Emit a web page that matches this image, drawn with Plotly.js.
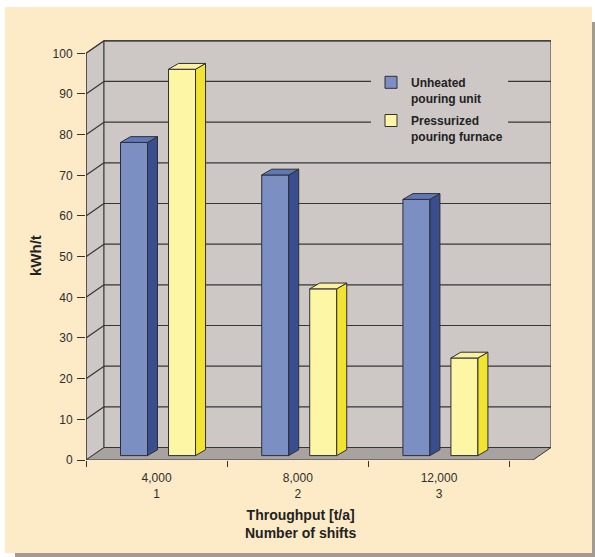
<!DOCTYPE html>
<html>
<head>
<meta charset="utf-8">
<script src="https://cdn.plot.ly/plotly-3.0.1.min.js"></script>
<style>
html,body{margin:0;padding:0;background:#fff;}
#chart{width:595px;height:557px;}
</style>
</head>
<body>
<div id="chart"></div>
<script>
// ---------- data ----------
var throughput = ['4,000', '8,000', '12,000'];
var shifts = ['1', '2', '3'];
var seriesNames = ['Unheated<br>pouring unit', 'Pressurized<br>pouring furnace'];
var unheated = [77, 69, 63];
var pressurized = [95, 41, 24];
var yTicks = [0, 10, 20, 30, 40, 50, 60, 70, 80, 90, 100];

// ---------- geometry / style ----------
var W = 595, H = 557;
var M = {l: 86, r: 44, t: 40, b: 97};
var plotW = W - M.l - M.r, plotH = H - M.t - M.b;
var Sx = 141.2;            // px per category unit
var Sy = 4.067;            // px per kWh/t
var xMin = -0.5, xMax = xMin + plotW / Sx;
var yMax = plotH / Sy;
var DX = 18 / Sx, DY = 12.5 / Sy;      // wall depth
var xFloor = xMin + 447 / Sx;           // floor front-right corner
var BASE = 4.4 / Sy;                    // bar baseline (front face)
var BDX = 10 / Sx, BDY = 5.8 / Sy;      // bar depth
var BW = 27 / Sx;                       // bar width
var offsets = [-0.16, 0.18];
var frontCol = ['#7b8fc3', '#fdf6a4'];
var sideCol = ['#3a4d8c', '#f2e330'];
var topCol = ['#6178b6', '#fbf1a2'];
var edge = '#2e2e36';
var wallCol = '#cdc8c6', floorCol = '#a8a3a1', gridCol = '#363636';
var cream = '#fdeac6';
var FONT = 'Liberation Sans, Arial, sans-serif';

var values = [unheated, pressurized];
var traces = [];
var cats = throughput.map(function (t, i) { return i; });
var catLabels = throughput.map(function (t, i) { return t + '<br>' + shifts[i]; });

// front faces as bar traces
values.forEach(function (vals, s) {
  traces.push({
    type: 'bar',
    name: seriesNames[s],
    legendgroup: 'g' + s,
    x: cats.map(function (c) { return c + offsets[s]; }),
    y: vals,
    base: BASE,
    width: BW,
    marker: {color: frontCol[s], line: {color: edge, width: 1}},
    hoverinfo: 'skip'
  });
});
// side and top faces
values.forEach(function (vals, s) {
  vals.forEach(function (v, i) {
    var xc = cats[i] + offsets[s];
    var xl = xc - BW / 2, xr = xc + BW / 2, b = BASE, t = BASE + v;
    traces.push({
      type: 'scatter', mode: 'lines', fill: 'toself', showlegend: false, hoverinfo: 'skip',
      legendgroup: 'g' + s,
      x: [xr, xr + BDX, xr + BDX, xr, xr],
      y: [b, b + BDY, t + BDY, t, b],
      fillcolor: sideCol[s], line: {color: edge, width: 1}
    });
    traces.push({
      type: 'scatter', mode: 'lines', fill: 'toself', showlegend: false, hoverinfo: 'skip',
      legendgroup: 'g' + s,
      x: [xl, xr, xr + BDX, xl + BDX, xl],
      y: [t, t, t + BDY, t + BDY, t],
      fillcolor: topCol[s], line: {color: edge, width: 1}
    });
  });
});

// ---------- shapes ----------
function px2paperX(px) { return (px - M.l) / plotW; }
function px2paperY(py) { return (H - M.b - py) / plotH; }
var shapes = [];
// shadow + cream panel
shapes.push({type: 'rect', xref: 'paper', yref: 'paper', layer: 'below',
  x0: px2paperX(15), x1: px2paperX(595), y0: px2paperY(557), y1: px2paperY(22),
  fillcolor: '#a39a92', line: {width: 0}});
shapes.push({type: 'rect', xref: 'paper', yref: 'paper', layer: 'below',
  x0: px2paperX(5), x1: px2paperX(592), y0: px2paperY(553), y1: px2paperY(7),
  fillcolor: cream, line: {width: 0}});
var yTop = yTicks[yTicks.length - 1];
// left wall
shapes.push({type: 'path', xref: 'x', yref: 'y', layer: 'below',
  path: 'M' + xMin + ',0 L' + (xMin + DX) + ',' + DY + ' L' + (xMin + DX) + ',' + (yTop + DY) +
        ' L' + xMin + ',' + yTop + ' Z',
  fillcolor: wallCol, line: {color: gridCol, width: 1}});
// back wall
shapes.push({type: 'rect', xref: 'x', yref: 'y', layer: 'below',
  x0: xMin + DX, x1: xFloor + DX, y0: DY, y1: yTop + DY,
  fillcolor: wallCol, line: {color: gridCol, width: 1}});
// floor
shapes.push({type: 'path', xref: 'x', yref: 'y', layer: 'below',
  path: 'M' + xMin + ',0 L' + xFloor + ',0 L' + (xFloor + DX) + ',' + DY +
        ' L' + (xMin + DX) + ',' + DY + ' Z',
  fillcolor: floorCol, line: {color: gridCol, width: 1}});
// gridlines
yTicks.forEach(function (v) {
  if (v === 0) return;
  shapes.push({type: 'line', xref: 'x', yref: 'y', layer: 'below',
    x0: xMin + DX, x1: xFloor + DX, y0: v + DY, y1: v + DY,
    line: {color: gridCol, width: 1.2}});
  shapes.push({type: 'line', xref: 'x', yref: 'y', layer: 'below',
    x0: xMin, x1: xMin + DX, y0: v, y1: v + DY,
    line: {color: gridCol, width: 1.2}});
});
// front value axis line
shapes.push({type: 'line', xref: 'x', yref: 'y', layer: 'below',
  x0: xMin, x1: xMin, y0: 0, y1: yTop, line: {color: gridCol, width: 1.2}});

var layout = {
  width: W, height: H,
  margin: M,
  paper_bgcolor: '#ffffff',
  plot_bgcolor: 'rgba(0,0,0,0)',
  barmode: 'overlay',
  showlegend: true,
  font: {family: FONT, color: '#2e2e2e'},
  xaxis: {
    type: 'linear', range: [xMin, xMax], fixedrange: true,
    tickmode: 'array', tickvals: cats, ticktext: catLabels,
    ticks: 'outside', ticklen: 3, tickcolor: 'rgba(0,0,0,0)',
    minor: {tickmode: 'array', tickvals: [-0.5, 0.5, 1.5, 2.5], ticks: 'outside',
            ticklen: 6, tickwidth: 1, tickcolor: '#333333'},
    tickfont: {family: FONT, size: 12, color: '#2e2e2e'},
    ticklabelstandoff: 4,
    showgrid: false, zeroline: false, showline: false
  },
  yaxis: {
    range: [0, yMax], fixedrange: true,
    tickmode: 'array', tickvals: yTicks,
    ticks: 'outside', ticklen: 8, tickwidth: 1, tickcolor: '#333333',
    tickfont: {family: FONT, size: 12, color: '#2e2e2e'},
    ticklabelstandoff: 2,
    showgrid: false, zeroline: false, showline: false
  },
  legend: {
    x: px2paperX(371), xanchor: 'left',
    y: px2paperY(68), yanchor: 'top',
    bgcolor: wallCol, borderwidth: 0,
    valign: 'top', tracegroupgap: 4,
    font: {family: FONT, size: 12, color: '#222222', weight: 'bold'},
    traceorder: 'grouped'
  },
  shapes: shapes,
  annotations: [
    {xref: 'paper', yref: 'paper', x: px2paperX(300.5), y: px2paperY(523.5),
     xanchor: 'center', yanchor: 'middle', showarrow: false,
     text: 'Throughput [t/a]<br>Number of shifts',
     font: {family: FONT, size: 14, color: '#222222', weight: 'bold'}},
    {xref: 'paper', yref: 'paper', x: px2paperX(36), y: px2paperY(256),
     xanchor: 'center', yanchor: 'middle', showarrow: false, textangle: -90,
     text: 'kWh/t',
     font: {family: FONT, size: 15, color: '#222222', weight: 'bold'}}
  ]
};

Plotly.newPlot('chart', traces, layout, {displayModeBar: false, staticPlot: true});
</script>
</body>
</html>
